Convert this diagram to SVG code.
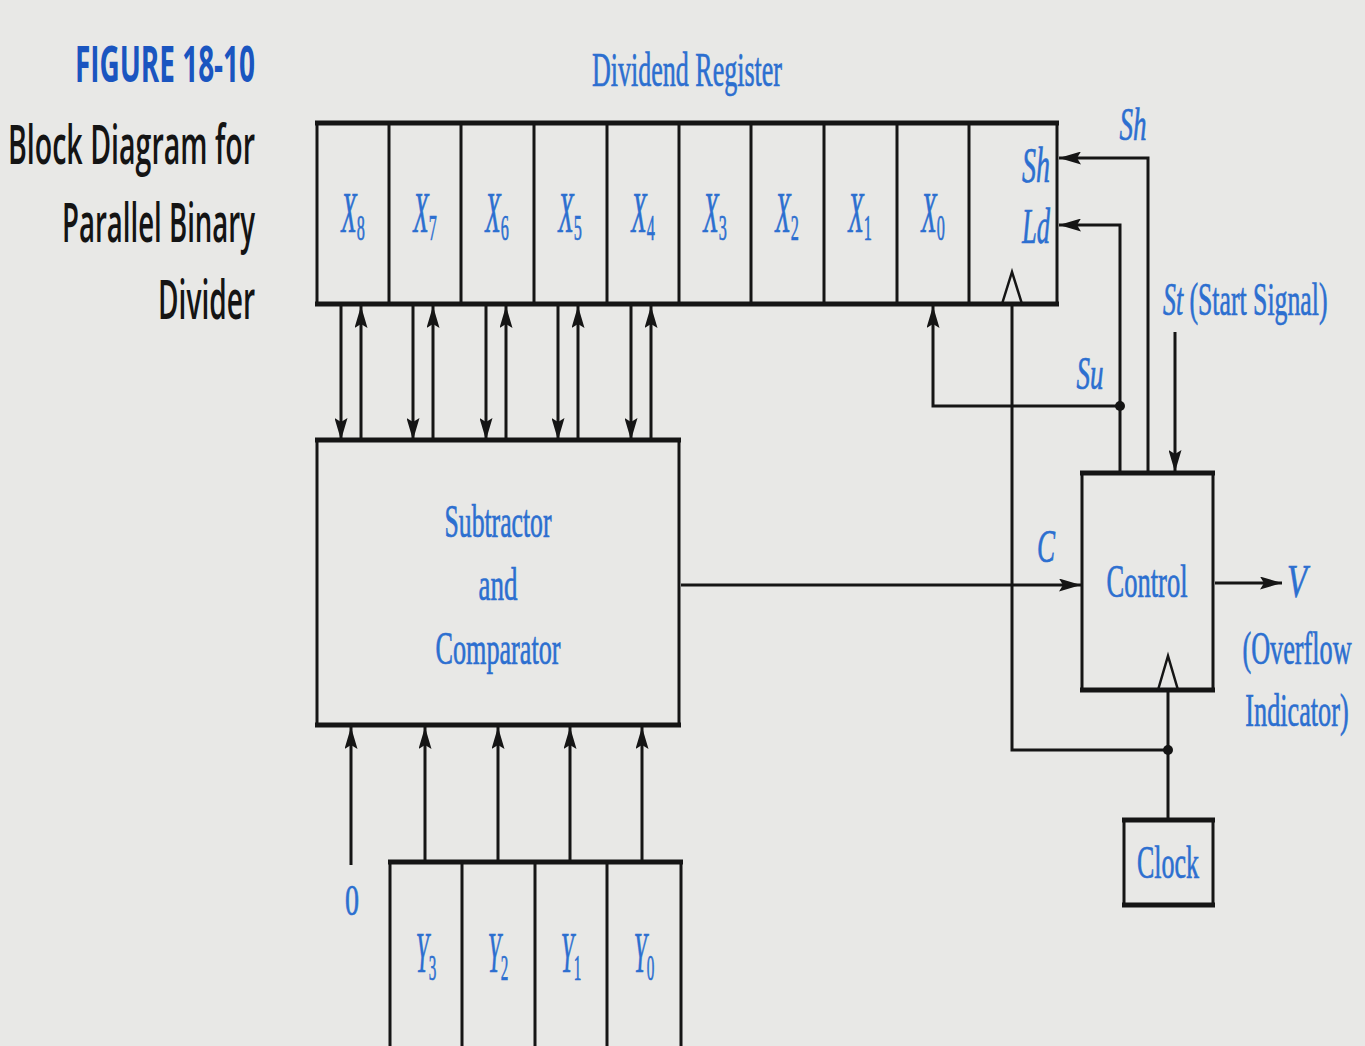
<svg xmlns="http://www.w3.org/2000/svg" width="1365" height="1046" viewBox="0 0 1365 1046">
<style>
.ln{fill:none;stroke:#151515;stroke-width:3}
.bx{fill:none;stroke:#151515;stroke-width:3}
.thk{stroke:#151515;stroke-width:5;fill:none}
.lbl{font-family:"Liberation Serif",serif;fill:#2c6fd0;stroke:#2c6fd0;stroke-width:0.7}
.it{font-style:italic}
.sub{font-style:normal}
.ttl{font-family:"Open Sans","Liberation Sans",sans-serif;fill:#141414;font-weight:600}
</style>
<defs>
<marker id="ah" viewBox="0 0 22 13" refX="22" refY="6.5" markerWidth="22" markerHeight="13" orient="auto" markerUnits="userSpaceOnUse"><path d="M0,0 L22,6.5 L0,13 L4,6.5 z" fill="#151515"/></marker>
</defs>
<rect x="0" y="0" width="1365" height="1046" fill="#e8e8e6"/>

<g id="title">
<text class="ttl" x="255" y="82" text-anchor="end" font-size="50" style="fill:#1a55c0;font-weight:bold" textLength="180" lengthAdjust="spacingAndGlyphs">FIGURE 18-10</text>
<text class="ttl" x="255" y="164" text-anchor="end" font-size="54" textLength="247" lengthAdjust="spacingAndGlyphs">Block Diagram for</text>
<text class="ttl" x="255" y="242" text-anchor="end" font-size="54" textLength="193" lengthAdjust="spacingAndGlyphs">Parallel Binary</text>
<text class="ttl" x="255" y="319" text-anchor="end" font-size="54" textLength="97" lengthAdjust="spacingAndGlyphs">Divider</text>
</g>

<g id="dividend-register">
<text class="lbl" x="687" y="86" text-anchor="middle" font-size="48" textLength="190" lengthAdjust="spacingAndGlyphs">Dividend Register</text>
<rect class="bx" x="317" y="123" width="740" height="181"/>
<line class="thk" x1="315" y1="123" x2="1059" y2="123"/>
<line class="thk" x1="315" y1="304" x2="1059" y2="304"/>
<path class="ln" d="M389,123V304M461,123V304M534,123V304M607,123V304M679,123V304M751,123V304M824,123V304M897,123V304M969,123V304"/>
<g class="lbl it" font-size="56" text-anchor="middle">
<text transform="translate(353,232) scale(0.45,1)">X<tspan class="sub" font-size="36" dy="8">8</tspan></text>
<text transform="translate(425,232) scale(0.45,1)">X<tspan class="sub" font-size="36" dy="8">7</tspan></text>
<text transform="translate(497,232) scale(0.45,1)">X<tspan class="sub" font-size="36" dy="8">6</tspan></text>
<text transform="translate(570,232) scale(0.45,1)">X<tspan class="sub" font-size="36" dy="8">5</tspan></text>
<text transform="translate(643,232) scale(0.45,1)">X<tspan class="sub" font-size="36" dy="8">4</tspan></text>
<text transform="translate(715,232) scale(0.45,1)">X<tspan class="sub" font-size="36" dy="8">3</tspan></text>
<text transform="translate(787,232) scale(0.45,1)">X<tspan class="sub" font-size="36" dy="8">2</tspan></text>
<text transform="translate(860,232) scale(0.45,1)">X<tspan class="sub" font-size="36" dy="8">1</tspan></text>
<text transform="translate(933,232) scale(0.45,1)">X<tspan class="sub" font-size="36" dy="8">0</tspan></text>
</g>
<text class="lbl it" x="1050" y="182" text-anchor="end" font-size="50" textLength="28" lengthAdjust="spacingAndGlyphs">Sh</text>
<text class="lbl it" x="1050" y="243" text-anchor="end" font-size="50" textLength="28" lengthAdjust="spacingAndGlyphs">Ld</text>
<polygon points="1002,304 1012,272 1022,304" fill="none" stroke="#151515" stroke-width="2.5"/>
</g>

<g id="subtractor-comparator">
<rect class="bx" x="317" y="440" width="362" height="285"/>
<line class="thk" x1="315" y1="440" x2="681" y2="440"/>
<line class="thk" x1="315" y1="725" x2="681" y2="725"/>
<text class="lbl" x="498" y="537" text-anchor="middle" font-size="46" textLength="107" lengthAdjust="spacingAndGlyphs">Subtractor</text>
<text class="lbl" x="498" y="600" text-anchor="middle" font-size="46" textLength="39" lengthAdjust="spacingAndGlyphs">and</text>
<text class="lbl" x="498" y="664" text-anchor="middle" font-size="46" textLength="125" lengthAdjust="spacingAndGlyphs">Comparator</text>
</g>

<g id="divisor-register">
<rect class="bx" x="390" y="862" width="291" height="200"/>
<line class="thk" x1="388" y1="862" x2="683" y2="862"/>
<path class="ln" d="M462,862V1046M535,862V1046M607,862V1046"/>
<g class="lbl it" font-size="56" text-anchor="middle">
<text transform="translate(426,972) scale(0.42,1)">Y<tspan class="sub" font-size="36" dy="8">3</tspan></text>
<text transform="translate(498,972) scale(0.42,1)">Y<tspan class="sub" font-size="36" dy="8">2</tspan></text>
<text transform="translate(571,972) scale(0.42,1)">Y<tspan class="sub" font-size="36" dy="8">1</tspan></text>
<text transform="translate(644,972) scale(0.42,1)">Y<tspan class="sub" font-size="36" dy="8">0</tspan></text>
</g>
</g>

<g id="zero-input">
<text class="lbl" x="352" y="915" text-anchor="middle" font-size="44" textLength="14" lengthAdjust="spacingAndGlyphs">0</text>
</g>

<g id="control">
<rect class="bx" x="1082" y="473" width="131" height="217"/>
<line class="thk" x1="1080" y1="473" x2="1215" y2="473"/>
<line class="thk" x1="1080" y1="690" x2="1215" y2="690"/>
<text class="lbl" x="1147" y="597" text-anchor="middle" font-size="46" textLength="81" lengthAdjust="spacingAndGlyphs">Control</text>
<polygon points="1158,690 1168,656 1178,690" fill="none" stroke="#151515" stroke-width="2.5"/>
</g>

<g id="clock">
<rect class="bx" x="1124" y="820" width="89" height="85"/>
<line class="thk" x1="1122" y1="820" x2="1215" y2="820"/>
<line class="thk" x1="1122" y1="905" x2="1215" y2="905"/>
<text class="lbl" x="1168" y="878" text-anchor="middle" font-size="46" textLength="62" lengthAdjust="spacingAndGlyphs">Clock</text>
</g>

<g id="labels">
<text class="lbl it" x="1133" y="140" text-anchor="middle" font-size="46" textLength="27" lengthAdjust="spacingAndGlyphs">Sh</text>
<text class="lbl it" x="1090" y="389" text-anchor="middle" font-size="46" textLength="27" lengthAdjust="spacingAndGlyphs">Su</text>
<text class="lbl" transform="translate(1163,315) scale(0.56,1)" x="0" y="0" font-size="46"><tspan font-style="italic">St</tspan> (Start Signal)</text>
<text class="lbl it" x="1046" y="562" text-anchor="middle" font-size="46" textLength="18" lengthAdjust="spacingAndGlyphs">C</text>
<text class="lbl it" x="1297" y="597" text-anchor="middle" font-size="46" textLength="20" lengthAdjust="spacingAndGlyphs">V</text>
<text class="lbl" transform="translate(1297,664) scale(0.57,1)" x="0" y="0" text-anchor="middle" font-size="46">(Overflow</text>
<text class="lbl" transform="translate(1297,726) scale(0.57,1)" x="0" y="0" text-anchor="middle" font-size="46">Indicator)</text>
</g>

<g id="connectors">
<path class="ln" d="M341,306V440" marker-end="url(#ah)"/>
<path class="ln" d="M361,440V306" marker-end="url(#ah)"/>
<path class="ln" d="M413,306V440" marker-end="url(#ah)"/>
<path class="ln" d="M433,440V306" marker-end="url(#ah)"/>
<path class="ln" d="M486,306V440" marker-end="url(#ah)"/>
<path class="ln" d="M506,440V306" marker-end="url(#ah)"/>
<path class="ln" d="M558,306V440" marker-end="url(#ah)"/>
<path class="ln" d="M578,440V306" marker-end="url(#ah)"/>
<path class="ln" d="M631,306V440" marker-end="url(#ah)"/>
<path class="ln" d="M651,440V306" marker-end="url(#ah)"/>
<path class="ln" d="M351,865V727" marker-end="url(#ah)"/>
<path class="ln" d="M425,860V727" marker-end="url(#ah)"/>
<path class="ln" d="M498,860V727" marker-end="url(#ah)"/>
<path class="ln" d="M570,860V727" marker-end="url(#ah)"/>
<path class="ln" d="M642,860V727" marker-end="url(#ah)"/>
<path class="ln" d="M681,585H1081" marker-end="url(#ah)"/>
<path class="ln" d="M1215,583H1282" marker-end="url(#ah)"/>
<path class="ln" d="M1175,332V472" marker-end="url(#ah)"/>
<path class="ln" d="M1148,471V158H1059" marker-end="url(#ah)"/>
<path class="ln" d="M1120,471V225H1059" marker-end="url(#ah)"/>
<path class="ln" d="M1120,406H933V306" marker-end="url(#ah)"/>
<path class="ln" d="M1012,304V750H1168"/>
<path class="ln" d="M1168,818V690"/>
<circle cx="1120" cy="406" r="5" fill="#151515"/>
<circle cx="1168" cy="750" r="5" fill="#151515"/>
</g>
</svg>
